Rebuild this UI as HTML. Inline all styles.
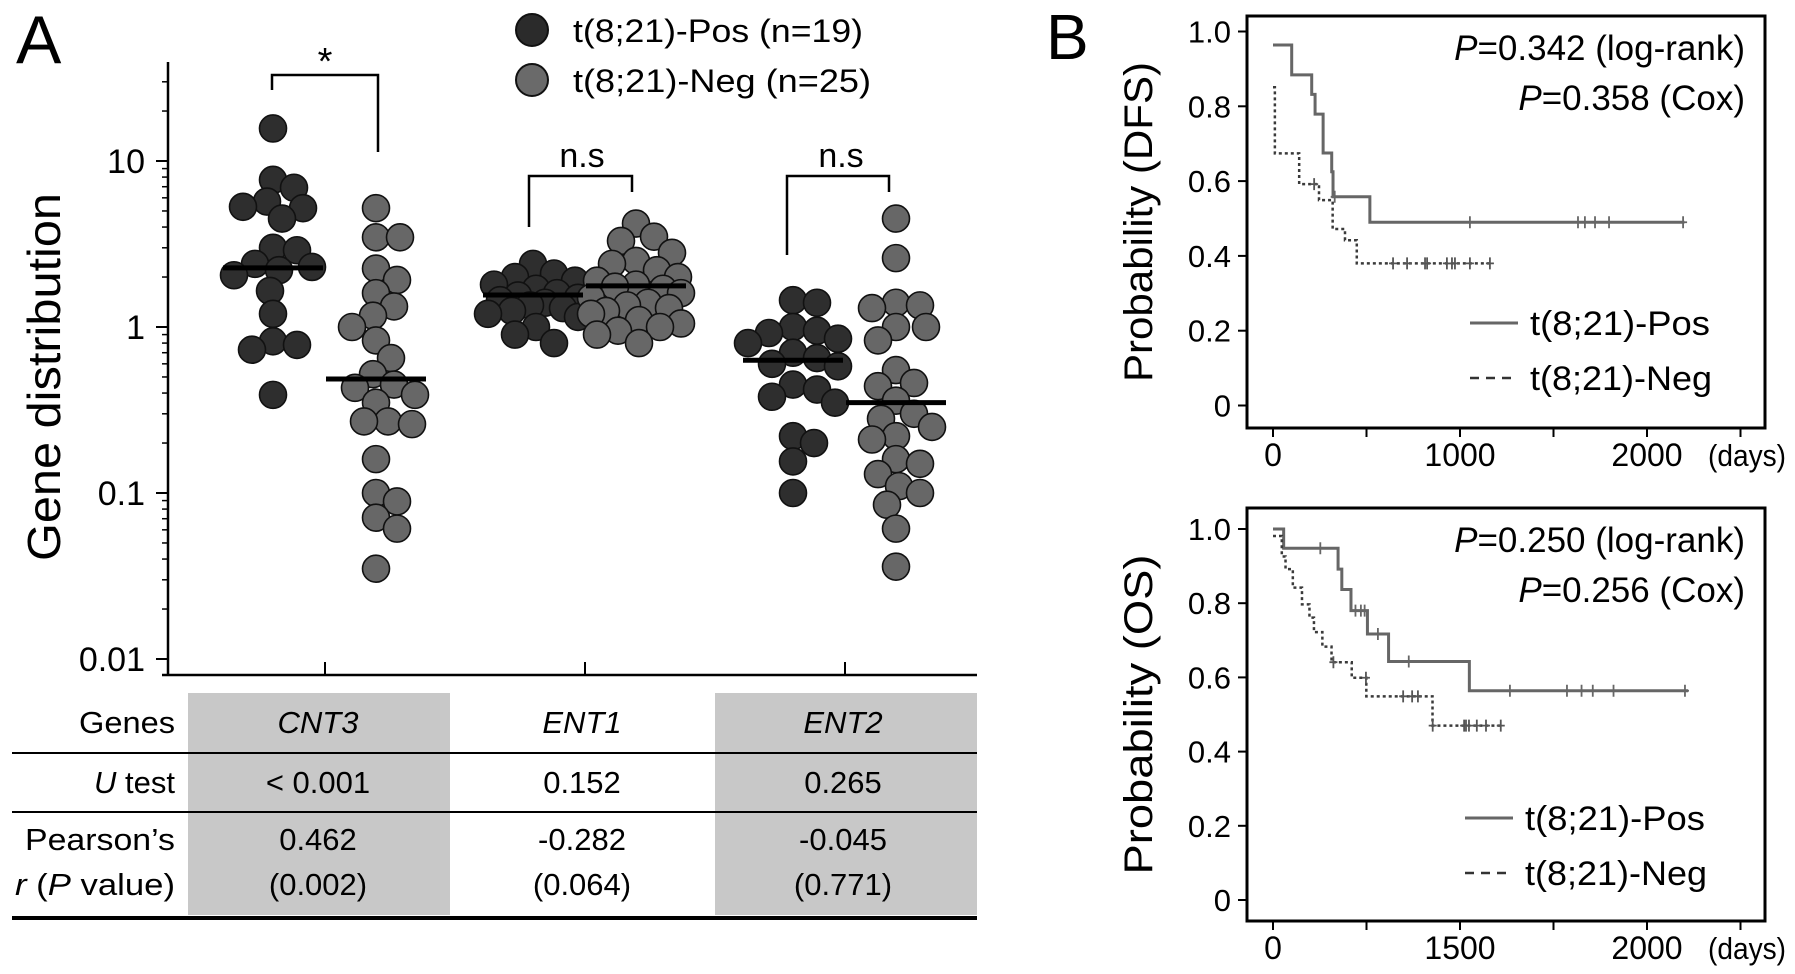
<!DOCTYPE html>
<html><head><meta charset="utf-8"><style>
html,body{margin:0;padding:0;background:#fff;}
svg{display:block;font-family:"Liberation Sans",sans-serif;}
</style></head><body>
<svg id="fig" width="1795" height="974" viewBox="0 0 1795 974" xmlns="http://www.w3.org/2000/svg">
<rect x="0" y="0" width="1795" height="974" fill="#fff"/>
<text x="16" y="63" font-size="68">A</text>
<text x="1046" y="59" font-size="64">B</text>
<text transform="translate(60,377) rotate(-90)" text-anchor="middle" font-size="46" textLength="368" lengthAdjust="spacingAndGlyphs">Gene distribution</text>
<g id="axA"></g>
<g id="dots"></g>
<g>
<circle cx="532" cy="30" r="16" fill="#2b2b2b" stroke="#111" stroke-width="2"/>
<circle cx="532" cy="80" r="16" fill="#6a6a6a" stroke="#111" stroke-width="2"/>
<text x="573" y="42" font-size="32" textLength="290" lengthAdjust="spacingAndGlyphs">t(8;21)-Pos (n=19)</text>
<text x="573" y="92" font-size="32" textLength="298" lengthAdjust="spacingAndGlyphs">t(8;21)-Neg (n=25)</text>
</g>
<g stroke="#000" stroke-width="2.5" fill="none">
<path d="M272 90 V75 H378 V152"/>
<path d="M529 227 V176 H632 V192"/>
<path d="M787 255 V176 H889 V192"/>
</g>
<text x="325" y="74" font-size="38" text-anchor="middle">*</text>
<text x="582" y="167" font-size="34" text-anchor="middle">n.s</text>
<text x="841" y="167" font-size="34" text-anchor="middle">n.s</text>

<g font-size="31">
<rect x="188" y="693" width="262" height="222" fill="#c8c8c8"/>
<rect x="715" y="693" width="262" height="222" fill="#c8c8c8"/>
<line x1="12" y1="753" x2="977" y2="753" stroke="#000" stroke-width="2"/>
<line x1="12" y1="812" x2="977" y2="812" stroke="#000" stroke-width="2"/>
<line x1="12" y1="918" x2="977" y2="918" stroke="#000" stroke-width="4"/>
<text x="175" y="733" text-anchor="end" textLength="96" lengthAdjust="spacingAndGlyphs">Genes</text>
<text x="175" y="793" text-anchor="end"><tspan font-style="italic">U</tspan> test</text>
<text x="175" y="850" text-anchor="end" textLength="150" lengthAdjust="spacingAndGlyphs">Pearson’s</text>
<text x="175" y="895" text-anchor="end" textLength="160" lengthAdjust="spacingAndGlyphs"><tspan font-style="italic">r</tspan> (<tspan font-style="italic">P</tspan> value)</text>
<text x="318" y="733" text-anchor="middle" font-style="italic">CNT3</text>
<text x="582" y="733" text-anchor="middle" font-style="italic">ENT1</text>
<text x="843" y="733" text-anchor="middle" font-style="italic">ENT2</text>
<text x="318" y="793" text-anchor="middle">&lt; 0.001</text>
<text x="582" y="793" text-anchor="middle">0.152</text>
<text x="843" y="793" text-anchor="middle">0.265</text>
<text x="318" y="850" text-anchor="middle">0.462</text>
<text x="582" y="850" text-anchor="middle">-0.282</text>
<text x="843" y="850" text-anchor="middle">-0.045</text>
<text x="318" y="895" text-anchor="middle">(0.002)</text>
<text x="582" y="895" text-anchor="middle">(0.064)</text>
<text x="843" y="895" text-anchor="middle">(0.771)</text>
</g>

<g id="km1"></g>
<g id="km2"></g>
</svg>
<script>
const NS="http://www.w3.org/2000/svg";
// ---- Panel A data ----
const genes=["CNT3","ENT1","ENT2"];
const yTicks=[10,1,0.1,0.01];
const yTickLabels=["10","1","0.1","0.01"];
const posCNT3=[15.7,7.7,6.9,5.7,5.3,5.2,4.5,3.0,2.9,2.4,2.3,2.2,2.05,1.65,1.2,0.82,0.78,0.73,0.39];
const negCNT3=[5.2,3.47,3.47,2.25,1.92,1.6,1.33,1.17,1.0,0.83,0.65,0.52,0.45,0.43,0.39,0.35,0.27,0.27,0.26,0.16,0.1,0.089,0.071,0.061,0.035];
const posENT1=[2.4,2.1,2.0,1.9,1.8,1.7,1.6,1.55,1.5,1.45,1.4,1.35,1.3,1.25,1.2,1.15,1.0,0.9,0.8];
const negENT1=[4.2,3.5,3.3,2.8,2.5,2.4,2.2,2.0,1.9,1.8,1.75,1.7,1.6,1.5,1.4,1.35,1.3,1.25,1.2,1.1,1.05,1.0,0.95,0.9,0.8];
const posENT2=[1.45,1.4,1.0,0.95,0.92,0.85,0.8,0.7,0.65,0.6,0.58,0.45,0.42,0.38,0.35,0.22,0.2,0.155,0.1];
const negENT2=[4.5,2.6,1.4,1.35,1.3,1.0,1.0,0.83,0.55,0.46,0.44,0.36,0.3,0.28,0.25,0.22,0.21,0.16,0.15,0.13,0.11,0.1,0.085,0.061,0.036];
const medians=[[2.27,0.486],[1.56,1.77],[0.63,0.35]];

// ---- Panel B data ----
const dfsTicksX=[0,1000,2000];
const dfsTickLabelsX=["0","1000","2000"];
const osTickLabelsX=["0","1500","2000"];
const probTicks=[0,0.2,0.4,0.6,0.8,1.0];
const probTickLabels=["0","0.2","0.4","0.6","0.8","1.0"];
const dfsPosT=[100,207,225,268,314,321,518];
const dfsPosS=[0.884,0.832,0.779,0.675,0.625,0.558,0.49];
const dfsPosStart=0.964, dfsPosEnd=2200;
const dfsPosCens=[330,1053,1631,1668,1722,1797,2193];
const dfsNegT=[10,140,246,319,385,448];
const dfsNegS=[0.674,0.592,0.549,0.472,0.442,0.380];
const dfsNegStart=0.851, dfsNegEnd=1176;
const dfsNegCens=[220,642,717,813,824,930,957,973,1053,1160];
const osPosT=[57,348,368,417,505,618,1050];
const osPosS=[0.948,0.892,0.837,0.78,0.717,0.643,0.564];
const osPosStart=1.0, osPosEnd=2220;
const osPosCens=[253,441,470,490,561,726,1267,1572,1650,1710,1821,2203];
const osNegT=[47,67,106,155,195,219,264,313,421,499,853];
const osNegS=[0.926,0.892,0.842,0.797,0.761,0.722,0.683,0.641,0.599,0.549,0.470];
const osNegStart=0.981, osNegEnd=1222;
const osNegCens=[323,497,696,744,775,854,1022,1032,1048,1090,1139,1218];

function el(tag,attrs,parent,txt){const e=document.createElementNS(NS,tag);for(const k in attrs)e.setAttribute(k,attrs[k]);if(txt!==undefined)e.textContent=txt;parent.appendChild(e);return e;}

// ---- Panel A axes ----
const yA=v=>327-166*Math.log10(v);
const groupX=[325,585,845];
const axA=document.getElementById('axA');
el('line',{x1:168,y1:62,x2:168,y2:676,stroke:'#000','stroke-width':2.5},axA);
el('line',{x1:162,y1:675,x2:977,y2:675,stroke:'#000','stroke-width':2.5},axA);
yTicks.forEach((t,i)=>{
  el('line',{x1:156,y1:yA(t),x2:168,y2:yA(t),stroke:'#000','stroke-width':2},axA);
  const tx=el('text',{x:145,y:yA(t)+12,'text-anchor':'end','font-size':34},axA,yTickLabels[i]);
  
  
});
for(let d=-2;d<=1;d++)for(let m=2;m<=9;m++){const v=m*Math.pow(10,d);const y=yA(v);if(y<62)continue;
  el('line',{x1:162,y1:y,x2:168,y2:y,stroke:'#000','stroke-width':1.5},axA);}
groupX.forEach(x=>el('line',{x1:x,y1:662,x2:x,y2:675,stroke:'#000','stroke-width':2},axA));

// ---- dots ----
const dots=document.getElementById('dots');
const series=[[posCNT3,negCNT3],[posENT1,negENT1],[posENT2,negENT2]];
const R=13.5;
function swarm(vals,cx,fill,name){
  const placed=[];
  vals.slice().sort((a,b)=>b-a).forEach(v=>{
    const cy=yA(v);let best=0,bestD=-1;
    for(let k=0;k<31;k++){
      const o=(k%2?1:-1)*Math.ceil(k/2)*3;
      const md=placed.reduce((m,p)=>Math.min(m,Math.hypot(p[0]-(cx+o),p[1]-cy)),1e9);
      if(md>=22){best=o;break;}
      if(md>bestD){bestD=md;best=o;}
    }
    placed.push([cx+best,cy]);
  });
  placed.forEach(p=>{
    const c=el('circle',{cx:p[0],cy:p[1],r:R,fill:fill,stroke:'#111','stroke-width':1.6},dots);
    
    
  });
}
series.forEach((s,g)=>{
  const cp=groupX[g]-52, cn=groupX[g]+51;
  swarm(s[0],cp,'#2e2e2e','point-pos-'+genes[g].toLowerCase());
  swarm(s[1],cn,'#676767','point-neg-'+genes[g].toLowerCase());
  [cp,cn].forEach((c,j)=>{
    const m=el('line',{x1:c-50,x2:c+50,y1:yA(medians[g][j]),y2:yA(medians[g][j]),stroke:'#000','stroke-width':5},dots);
    
    
  });
});

// ---- KM plots ----
function km(gid,fr,xTickLabels,pTexts,ylabel,pos,neg){
  const g=document.getElementById(gid);
  const x=t=>1273+t*0.187;
  const y=p=>fr.y0-p*(fr.y0-fr.y1);
  el('rect',{x:1247,y:fr.top,width:518,height:fr.bot-fr.top,fill:'none',stroke:'#000','stroke-width':3},g);
  probTicks.forEach((p,i)=>{
    el('line',{x1:1238,x2:1247,y1:y(p),y2:y(p),stroke:'#000','stroke-width':2},g);
    const t=el('text',{x:1231,y:y(p)+11,'text-anchor':'end','font-size':31},g,probTickLabels[i]);
    
    
  });
  [0,500,1000,1500,2000,2500].forEach(d=>el('line',{x1:x(d),x2:x(d),y1:fr.bot,y2:fr.bot+9,stroke:'#000','stroke-width':2},g));
  dfsTicksX.forEach((d,i)=>{
    const t=el('text',{x:x(d),y:fr.bot+38,'text-anchor':'middle','font-size':32},g,xTickLabels[i]);
    
    
  });
  el('text',{x:1786,y:fr.bot+38,'font-size':31,'text-anchor':'end',textLength:78,lengthAdjust:'spacingAndGlyphs'},g,'(days)');
  const yl=el('text',{transform:`translate(1152,${(fr.top+fr.bot)/2}) rotate(-90)`,'text-anchor':'middle','font-size':40,textLength:320,lengthAdjust:'spacingAndGlyphs'},g,ylabel);
  
  
  const pt1=el('text',{x:1745,y:fr.top+44,'text-anchor':'end','font-size':35},g);
  el('tspan',{'font-style':'italic'},pt1,'P');el('tspan',{},pt1,pTexts[0]);
  const pt2=el('text',{x:1745,y:fr.top+94,'text-anchor':'end','font-size':35},g);
  el('tspan',{'font-style':'italic'},pt2,'P');el('tspan',{},pt2,pTexts[1]);
  [pos,neg].forEach((c,ci)=>{
    let d=`M${x(0)} ${y(c.start)}`;
    c.T.forEach((t,i)=>{d+=` H${x(t)} V${y(c.S[i])}`;});
    d+=` H${x(c.end)}`;
    const p=el('path',{d:d,fill:'none',stroke:ci?'#3a3a3a':'#666','stroke-width':ci?2.5:3,'stroke-dasharray':ci?'3 3':'none'},g);
    
    
    c.C.forEach(t=>{
      let s=c.start;c.T.forEach((tt,i)=>{if(tt<=t)s=c.S[i];});
      const m=el('path',{d:`M${x(t)} ${y(s)-6} V${y(s)+6} M${x(t)-4} ${y(s)} H${x(t)+4}`,stroke:ci?'#555':'#666','stroke-width':1.8},g);
      
      
    });
  });
  el('line',{x1:fr.lx,x2:fr.lx+48,y1:fr.ly,y2:fr.ly,stroke:'#666','stroke-width':3},g);
  el('line',{x1:fr.lx,x2:fr.lx+48,y1:fr.ly+55,y2:fr.ly+55,stroke:'#333','stroke-width':2.5,'stroke-dasharray':'9 7'},g);
  const l1=el('text',{x:fr.lx+60,y:fr.ly+12,'font-size':34,textLength:180,lengthAdjust:'spacingAndGlyphs'},g,'t(8;21)-Pos');
  
  
  const l2=el('text',{x:fr.lx+60,y:fr.ly+67,'font-size':34,textLength:182,lengthAdjust:'spacingAndGlyphs'},g,'t(8;21)-Neg');
  
  
}
km('km1',{top:16,bot:428,y0:405.5,y1:31.5,lx:1470,ly:323},dfsTickLabelsX,['=0.342 (log-rank)','=0.358 (Cox)'],'Probability (DFS)',
  {T:dfsPosT,S:dfsPosS,start:dfsPosStart,end:dfsPosEnd,C:dfsPosCens},
  {T:dfsNegT,S:dfsNegS,start:dfsNegStart,end:dfsNegEnd,C:dfsNegCens});
km('km2',{top:508,bot:921,y0:900,y1:529,lx:1465,ly:818},osTickLabelsX,['=0.250 (log-rank)','=0.256 (Cox)'],'Probability (OS)',
  {T:osPosT,S:osPosS,start:osPosStart,end:osPosEnd,C:osPosCens},
  {T:osNegT,S:osNegS,start:osNegStart,end:osNegEnd,C:osNegCens});
</script>
</body></html>
